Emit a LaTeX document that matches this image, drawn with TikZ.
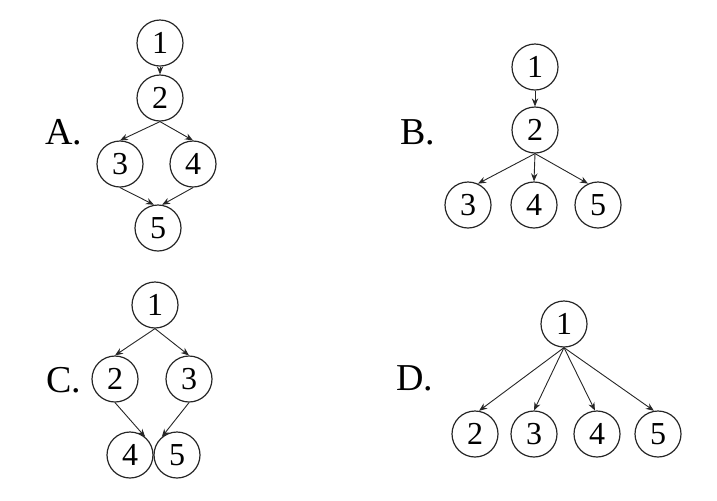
\documentclass[tikz,border=0pt]{standalone}
\usepackage{fontspec}
\setmainfont{Liberation Serif}
\usetikzlibrary{arrows.meta, positioning}

\begin{document}
\begin{tikzpicture}[
        x=0.5pt, y=-0.5pt,
        vert/.style={circle, draw=black!85, line width=0.6pt, minimum size=23pt, inner sep=0pt, font=\fontsize{16}{16}\selectfont},
        tag/.style={font=\fontsize{19}{19}\selectfont, anchor=center},
        arrow/.style={-{Stealth[length=4pt, width=3.2pt]}, line width=0.45pt, draw=black!85},
    ]
        \useasboundingbox (0,0) rectangle (717,500);

        % Graph A
        \node[tag] (labA) at (64,132) {A.};
        \node[vert] (a1) at (160,43) {1};
        \node[vert] (a2) at (160,98) {2};
        \node[vert] (a3) at (120,164) {3};
        \node[vert] (a4) at (193,164) {4};
        \node[vert] (a5) at (158,228) {5};

        % Graph B
        \node[tag] (labB) at (418,132) {B.};
        \node[vert] (b1) at (535,67) {1};
        \node[vert] (b2) at (535,130) {2};
        \node[vert] (b3) at (468,205) {3};
        \node[vert] (b4) at (534,205) {4};
        \node[vert] (b5) at (598,205) {5};

        % Graph C
        \node[tag] (labC) at (64,380) {C.};
        \node[vert] (c1) at (155,305) {1};
        \node[vert] (c2) at (115,379) {2};
        \node[vert] (c3) at (189,379) {3};
        \node[vert] (c4) at (130,455) {4};
        \node[vert] (c5) at (177,455) {5};

        % Graph D
        \node[tag] (labD) at (415,378) {D.};
        \node[vert] (d1) at (564,324) {1};
        \node[vert] (d2) at (475,434) {2};
        \node[vert] (d3) at (534,434) {3};
        \node[vert] (d4) at (597,434) {4};
        \node[vert] (d5) at (658,434) {5};

        % Arrows A
        \draw[arrow] (a1) -- (a2);
        \draw[arrow] (a2.south) -- (a3.north);
        \draw[arrow] (a2.south) -- (a4.north);
        \draw[arrow] (a3.south) -- (a5.100);
        \draw[arrow] (a4.south) -- (a5.80);

        % Arrows B
        \draw[arrow] (b1) -- (b2);
        \draw[arrow] (b2.south) -- (b3.65);
        \draw[arrow] (b2.south) -- (b4.north);
        \draw[arrow] (b2.south) -- (b5.115);

        % Arrows C
        \draw[arrow] (c1.south) -- (c2.north);
        \draw[arrow] (c1.south) -- (c3.north);
        \draw[arrow] (c2.south) -- (c4.50);
        \draw[arrow] (c3.south) -- (c5.130);

        % Arrows D
        \foreach \k/\a in {2/80, 3/90, 4/95, 5/100}
            \draw[arrow] (d1.south) -- (d\k.\a);
    \end{tikzpicture}
\end{document}
